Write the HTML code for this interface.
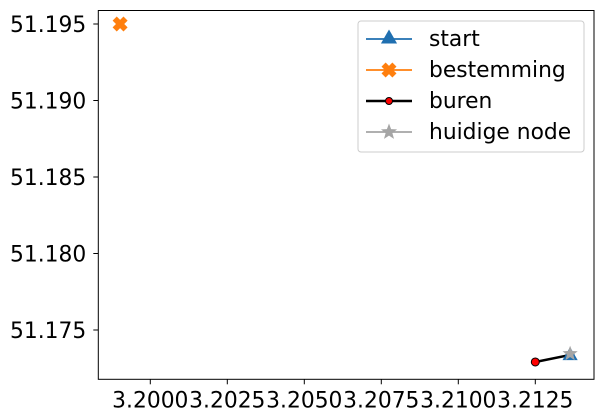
<!DOCTYPE html>
<html><head><meta charset="utf-8"><style>
html,body{margin:0;padding:0;background:#fff}
svg{display:block;font-family:"DejaVu Sans","Liberation Sans",sans-serif}
</style></head><body>
<svg id="chart" width="603" height="419" viewBox="0 0 603 419" xmlns="http://www.w3.org/2000/svg">
<rect width="603" height="419" fill="#fff"/>
<g id="plot"></g>
</svg>
<script>
const xTicks=[3.2000,3.2025,3.2050,3.2075,3.2100,3.2125];
const xTickLabels=["3.2000","3.2025","3.2050","3.2075","3.2100","3.2125"];
const yTicks=[51.175,51.180,51.185,51.190,51.195];
const yTickLabels=["51.175","51.180","51.185","51.190","51.195"];
const startX=[3.21363];const startY=[51.17337];
const bestX=[3.19902];const bestY=[51.195];
const burenX=[3.2125,3.21363];const burenY=[51.17291,51.17337];
const huidigX=[3.21363];const huidigY=[51.17345];
const L=98.3,R=594,T=10.5,B=379.3;
const FS=21.8;
const xs=v=>150.3+(v-3.2)/0.0025*77;
const ys=v=>330-(v-51.175)/0.005*76.5;
const NS="http://www.w3.org/2000/svg";
const g=document.getElementById('plot');
function el(t,a,p){const e=document.createElementNS(NS,t);for(const k in a)e.setAttribute(k,a[k]);(p||g).appendChild(e);return e;}
function star(cx,cy,r){let p=[];for(let i=0;i<10;i++){const rr=i%2?r*0.42:r;const a=-Math.PI/2+i*Math.PI/5;p.push((cx+rr*Math.cos(a)).toFixed(2)+','+(cy+rr*Math.sin(a)).toFixed(2));}return p.join(' ');}
function tri(cx,cy,r){return `${cx},${cy-r} ${cx-r*0.95},${cy+r*0.65} ${cx+r*0.95},${cy+r*0.65}`;}
function cross(cx,cy,s){const pts=[[-1,-.45],[-.45,-1],[0,-.55],[.45,-1],[1,-.45],[.55,0],[1,.45],[.45,1],[0,.55],[-.45,1],[-1,.45],[-.55,0]];return pts.map(p=>(cx+p[0]*s)+','+(cy+p[1]*s)).join(' ');}
xTicks.forEach((v,i)=>{const x=xs(v);
 const t=el('line',{x1:x,x2:x,y1:B,y2:B+5,stroke:'#000','stroke-width':1});
 
 const tx=el('text',{x:x,y:B+28,'text-anchor':'middle','font-size':FS,fill:'#000'});tx.textContent=xTickLabels[i];
 });
yTicks.forEach((v,i)=>{const y=ys(v);
 const t=el('line',{x1:L-5,x2:L,y1:y,y2:y,stroke:'#000','stroke-width':1});
 
 const tx=el('text',{x:L-12,y:y+8,'text-anchor':'end','font-size':FS,fill:'#000'});tx.textContent=yTickLabels[i];
 });
const bl=el('polyline',{points:burenX.map((x,i)=>xs(x)+','+ys(burenY[i])).join(' '),fill:'none',stroke:'#000','stroke-width':2.5});

burenX.forEach((x,i)=>{const c=el('circle',{cx:xs(x),cy:ys(burenY[i]),r:4,fill:'red',stroke:'#000','stroke-width':1});
 });
startX.forEach((x,i)=>{const p=el('polygon',{points:tri(xs(x),ys(startY[i]),8),fill:'#1f6fb0'});
 });
bestX.forEach((x,i)=>{const p=el('polygon',{points:cross(xs(x),ys(bestY[i]),7.5),fill:'#ff7f0e'});
 });
huidigX.forEach((x,i)=>{const p=el('polygon',{points:star(xs(x),ys(huidigY[i]),8),fill:'#a5a5a5'});
 });
const fr=el('rect',{x:L,y:T,width:R-L,height:B-T,fill:'none',stroke:'#000','stroke-width':1});

const lg=el('g',{});
el('rect',{x:358,y:21,width:226,height:131,rx:3,fill:'#fff','fill-opacity':0.8,stroke:'#ccc','stroke-width':1},lg);
const items=[['start','#1f6fb0','tri'],['bestemming','#ff7f0e','cross'],['buren','#000','dot'],['huidige node','#a5a5a5','star']];
items.forEach((it,i)=>{const y=39+i*31;
 const e=el('g',{},lg);
 el('line',{x1:366,x2:412,y1:y,y2:y,stroke:it[1],'stroke-width':it[2]=='dot'?2.5:1.8},e);
 if(it[2]=='tri')el('polygon',{points:tri(389,y-1,8.5),fill:it[1]},e);
 if(it[2]=='cross')el('polygon',{points:cross(389,y,7.5),fill:it[1]},e);
 if(it[2]=='dot')el('circle',{cx:389,cy:y,r:3.5,fill:'red',stroke:'#000'},e);
 if(it[2]=='star')el('polygon',{points:star(389,y,8.5),fill:it[1]},e);
 const t=el('text',{x:429,y:y+7,'font-size':FS,fill:'#000'},e);t.textContent=it[0];});
</script>
</body></html>
